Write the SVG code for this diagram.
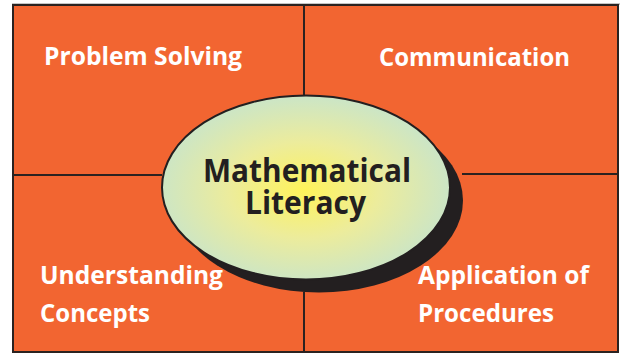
<svg xmlns="http://www.w3.org/2000/svg" width="620" height="354" viewBox="0 0 620 354">
  <defs>
    <radialGradient id="glow" cx="304" cy="190" r="150" gradientUnits="userSpaceOnUse" gradientTransform="translate(304 190) scale(1 0.64) translate(-304 -190)">
      <stop offset="0" stop-color="#fff35a"/>
      <stop offset="0.5" stop-color="#ecec9c"/>
      <stop offset="1" stop-color="#cae5c8"/>
    </radialGradient>
    <style>
      .quad { font-family: "Open Sans", "Liberation Sans", sans-serif; font-weight: 700; font-size: 25px; fill: #ffffff; }
      .core { font-family: "Open Sans", "Liberation Sans", sans-serif; font-weight: 700; font-size: 32.5px; fill: #231f20; text-anchor: middle; }
      .line { stroke: #2b2220; stroke-width: 2; fill: none; }
    </style>
  </defs>
  <rect x="0" y="0" width="620" height="354" fill="#ffffff"/>
  <line x1="12" y1="4" x2="620" y2="4" stroke="#8a8a8a" stroke-width="1"/>
  <rect id="frame" x="13" y="5" width="605" height="347" fill="#f26531" stroke="#2b2220" stroke-width="2"/>
  <g id="connectors">
    <line class="line" x1="304" y1="5" x2="304" y2="96"/>
    <line class="line" x1="304" y1="292" x2="304" y2="352"/>
    <line class="line" x1="13" y1="175" x2="162" y2="175"/>
    <line class="line" x1="462" y1="174" x2="618" y2="174"/>
  </g>
  <g id="problem-solving">
    <text class="quad" x="44" y="65" textLength="198" lengthAdjust="spacingAndGlyphs">Problem Solving</text>
  </g>
  <g id="communication">
    <text class="quad" x="379" y="66" textLength="191" lengthAdjust="spacingAndGlyphs">Communication</text>
  </g>
  <g id="understanding-concepts">
    <text class="quad" x="40" y="284" textLength="183" lengthAdjust="spacingAndGlyphs">Understanding</text>
    <text class="quad" x="40" y="322" textLength="110" lengthAdjust="spacingAndGlyphs">Concepts</text>
  </g>
  <g id="application-of-procedures">
    <text class="quad" x="418" y="284" textLength="171" lengthAdjust="spacingAndGlyphs">Application of</text>
    <text class="quad" x="418" y="322" textLength="136" lengthAdjust="spacingAndGlyphs">Procedures</text>
  </g>
  <g id="mathematical-literacy">
    <ellipse cx="319" cy="200.5" rx="144" ry="92" fill="#231f20"/>
    <ellipse cx="306" cy="187.5" rx="144" ry="92" fill="url(#glow)" stroke="#231f20" stroke-width="2"/>
    <text class="core" x="307" y="182" textLength="208" lengthAdjust="spacingAndGlyphs">Mathematical</text>
    <text class="core" x="305.5" y="214" textLength="121" lengthAdjust="spacingAndGlyphs">Literacy</text>
  </g>
</svg>
